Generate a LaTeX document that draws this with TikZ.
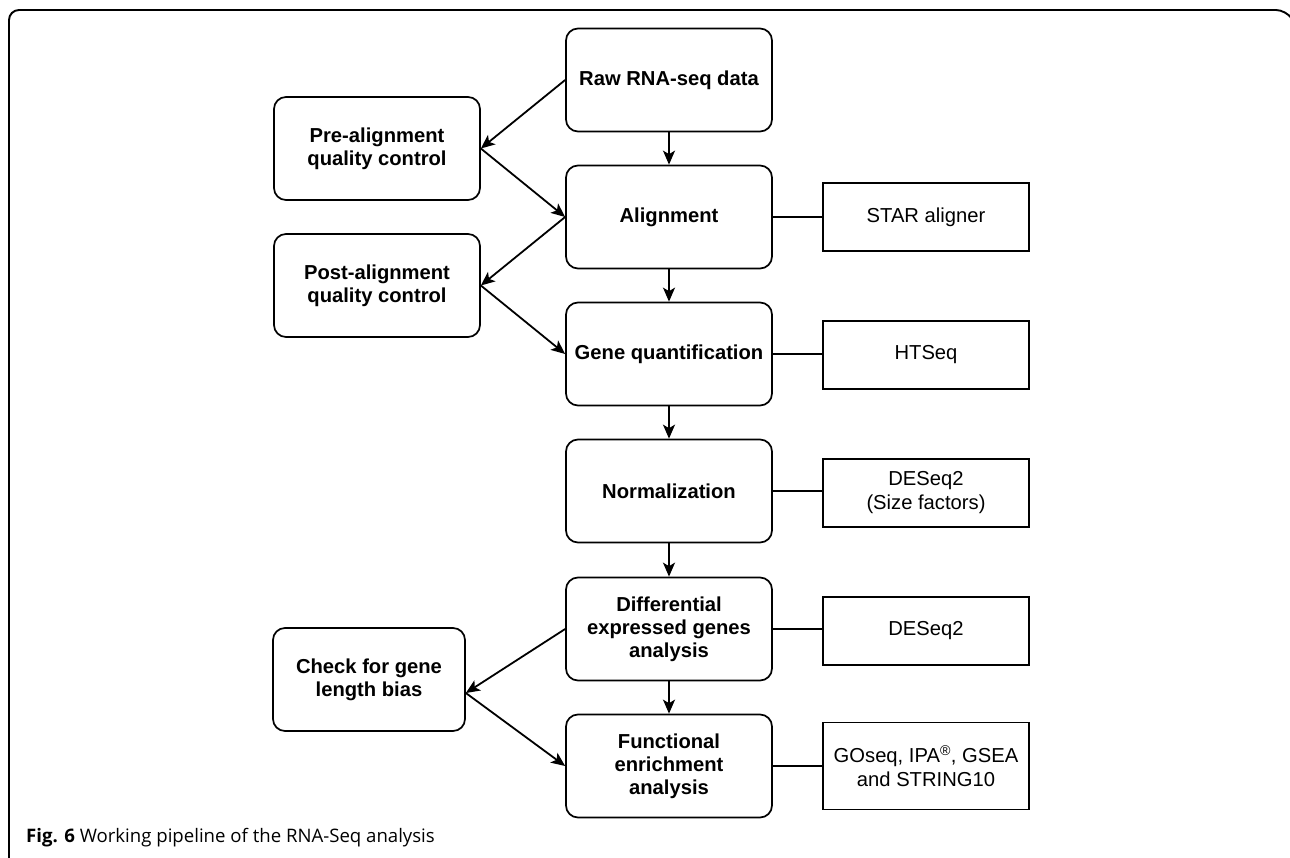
\documentclass[tikz,border=0pt]{standalone}
\usepackage{fontspec}
\setmainfont{Liberation Sans}
\newfontfamily\capfont{Open Sans}
\usetikzlibrary{arrows.meta}
\tikzset{
  rbox/.style={draw, line width=1.7pt, rounded corners=12pt, minimum width=206pt, minimum height=103pt, align=center, inner sep=0pt, font=\bfseries\fontsize{20.2}{23}\selectfont},
  sbox/.style={draw, line width=1.7pt, minimum width=206pt, minimum height=68pt, align=center, inner sep=0pt, font=\fontsize{20.2}{24}\selectfont},
  arr/.style={-{Stealth[length=14pt,width=12pt,inset=3.5pt]}, line width=1.8pt},
  link/.style={line width=1.8pt},
  frame/.style={line width=1.9pt, rounded corners=10pt}
}
\begin{document}
\begin{tikzpicture}[x=1pt,y=-1pt]
\useasboundingbox (0,0) rectangle (1290,858);
% frame
\coordinate (fa) at (9,870);
\coordinate (fb) at (9,10);
\coordinate (fc) at (1286,10);
\coordinate (fd) at (1294,22);
\draw[frame] (fa) -- (fb) -- (fc) -- (fd);
% main column
\node[rbox] (raw)   at (669,80)  {Raw RNA-seq data};
\node[rbox] (align) at (669,217) {Alignment};
\node[rbox] (gene)  at (669,354) {Gene quantification};
\node[rbox] (norm)  at (669,491) {Normalization};
\node[rbox] (deg)   at (669,629) {Differential\\expressed genes\\analysis};
\node[rbox] (func)  at (669,766) {Functional\\enrichment\\analysis};
% left column
\node[rbox] (pre)  at (377,148.5) {Pre-alignment\\quality control};
\node[rbox] (post) at (377,285.5) {Post-alignment\\quality control};
\node[rbox, minimum width=192pt] (bias) at (369,679.5) {Check for gene\\length bias};
% right column
\node[sbox] (star)   at (926,217) {STAR aligner};
\node[sbox] (htseq)  at (926,355) {HTSeq};
\node[sbox] (desf)   at (926,493) {DESeq2\\(Size factors)};
\node[sbox] (deseq)  at (926,631) {DESeq2};
\node[sbox, minimum height=87pt] (goseq) at (926,766) {GOseq, IPA\textsuperscript{\textregistered}, GSEA\\and STRING10};
% vertical arrows
\draw[arr] (raw) -- (align);
\draw[arr] (align) -- (gene);
\draw[arr] (gene) -- (norm);
\draw[arr] (norm) -- (deg);
\draw[arr] (deg) -- (func);
% side arrows
\draw[arr] (raw.west) -- (pre.east);
\draw[arr] (pre.east) -- (align.west);
\draw[arr] (align.west) -- (post.east);
\draw[arr] (post.east) -- (gene.west);
\coordinate (bj) at ([yshift=-13.5pt]bias.east);
\draw[arr] (deg.west) -- (bj);
\draw[arr] (bj) -- (func.west);
% links
\draw[link] (align.east) -- (star.west);
\draw[link] (gene.east) -- (htseq.west |- gene.east);
\draw[link] (norm.east) -- (desf.west |- norm.east);
\draw[link] (deg.east) -- (deseq.west |- deg.east);
\draw[link] (func.east) -- (goseq.west);
% caption
\node[anchor=base west, inner sep=0pt, font=\capfont\fontsize{18.6}{22}\selectfont] (cap) at (26,842) {\textbf{Fig. 6} Working pipeline of the RNA-Seq analysis};
\end{tikzpicture}
\end{document}
